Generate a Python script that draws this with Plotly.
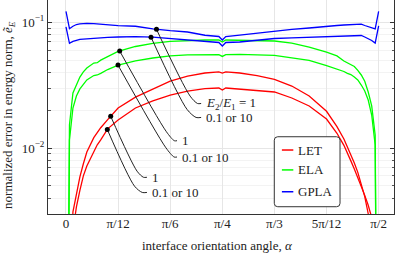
import numpy as np
import plotly.graph_objects as go

# ---------------- data ----------------
ANGLE_DEG = [0, 1, 2, 3, 4, 5, 6, 8, 9, 10, 12, 15, 20, 25, 30, 35, 40, 44, 45, 46,
             50, 55, 60, 65, 70, 75, 78, 80, 81, 82, 83, 84, 85, 86, 87, 88, 89, 90]

LET_RATIO_1 = [1e-6, 0.0008, 0.0031, 0.0044, 0.0059, 0.0075, 0.0093, 0.0121, 0.0133, 0.0145,
               0.0168, 0.0208, 0.0254, 0.0295, 0.0341, 0.0373, 0.0395, 0.0403, 0.0395, 0.0403,
               0.0395, 0.0377, 0.0351, 0.0311, 0.0259, 0.0196, 0.0148, 0.0118, 0.0103, 0.0088,
               0.0076, 0.0064, 0.0052, 0.0041, 0.0030, 0.0019, 0.0009, 1e-6]
LET_RATIO_01 = [1e-6, 0.0005, 0.0022, 0.0034, 0.0046, 0.0060, 0.0072, 0.0095, 0.0106, 0.0116,
                0.0142, 0.0167, 0.0208, 0.0237, 0.0264, 0.0284, 0.0297, 0.0300, 0.0289, 0.0300,
                0.0295, 0.0287, 0.0279, 0.0250, 0.0216, 0.0170, 0.0131, 0.0105, 0.0092, 0.0079,
                0.0068, 0.0058, 0.0050, 0.0042, 0.0035, 0.0028, 0.0014, 1e-6]
ELA_RATIO_1 = [1e-6, 0.0153, 0.0274, 0.0323, 0.0367, 0.0403, 0.0433, 0.0474, 0.0477, 0.0500,
               0.0535, 0.0586, 0.0642, 0.0680, 0.0704, 0.0717, 0.0723, 0.0723, 0.0697, 0.0723,
               0.0720, 0.0715, 0.0710, 0.0684, 0.0636, 0.0580, 0.0540, 0.0492, 0.0477, 0.0466,
               0.0445, 0.0414, 0.0381, 0.0340, 0.0279, 0.0216, 0.0127, 1e-6]
ELA_RATIO_01 = [1e-6, 0.0116, 0.0208, 0.0259, 0.0295, 0.0323, 0.0348, 0.0377, 0.0381, 0.0392,
                0.0421, 0.0457, 0.0493, 0.0520, 0.0540, 0.0550, 0.0555, 0.0553, 0.0535, 0.0553,
                0.0556, 0.0554, 0.0545, 0.0522, 0.0497, 0.0453, 0.0425, 0.0406, 0.0393, 0.0384,
                0.0367, 0.0348, 0.0317, 0.0284, 0.0241, 0.0183, 0.0106, 1e-6]
GPLA_RATIO_1 = [0.122, 0.089, 0.093, 0.096, 0.097, 0.098, 0.098, 0.0975, 0.097, 0.0965,
                0.096, 0.0942, 0.093, 0.0885, 0.0857, 0.0837, 0.0789, 0.0771, 0.0723, 0.0771,
                0.0792, 0.0822, 0.0846, 0.0877, 0.0901, 0.0935, 0.0943, 0.0952, 0.0956, 0.0960,
                0.0966, 0.0969, 0.0966, 0.0943, 0.0926, 0.0904, 0.0885, 0.122]
GPLA_RATIO_01 = [0.092, 0.068, 0.0705, 0.0722, 0.0732, 0.0736, 0.0740, 0.0746, 0.0750, 0.0753,
                 0.0760, 0.0764, 0.0768, 0.0761, 0.0743, 0.0720, 0.0704, 0.0691, 0.0648, 0.0691,
                 0.0697, 0.0717, 0.0743, 0.0753, 0.0760, 0.0767, 0.0771, 0.0774, 0.0775, 0.0778,
                 0.0780, 0.0785, 0.0785, 0.0764, 0.0743, 0.0717, 0.0684, 0.0935]

X_TICK_VALS = [0, 15, 30, 45, 60, 75, 90]
X_TICK_TEXT = ["0", "π/12", "π/6", "π/4", "π/3", "5π/12", "π/2"]
Y_TICK_VALS = [0.01, 0.1]
Y_TICK_TEXT = ["10<sup>−2</sup>", "10<sup>−1</sup>"]
Y_MINOR_VALS = [0.003, 0.004, 0.005, 0.006, 0.007, 0.008, 0.009,
                0.02, 0.03, 0.04, 0.05, 0.06, 0.07, 0.08, 0.09]

METHODS = ["LET", "ELA", "GPLA"]
COLORS = ["#ff0000", "#00ff00", "#0000ff"]

# leader-line labels: series, anchor angle, elbow (angle, value), end angle, text
LEADER_SERIES = [GPLA_RATIO_1, GPLA_RATIO_01, ELA_RATIO_1, ELA_RATIO_01, LET_RATIO_1, LET_RATIO_01]
LEADER_ANCHOR = [26.05, 24.47, 15.46, 14.97, 12.87, 11.89]
LEADER_ELBOW_X = [36.8, 36.0, 30.4, 30.3, 21.3, 20.6]
LEADER_ELBOW_Y = [0.0226, 0.0175, 0.01143, 0.00848, 0.00585, 0.00443]
LEADER_END_X = [38.9, 38.9, 31.95, 31.95, 23.3, 23.3]
LEADER_TEXT = ["<i>E</i><sub>2</sub>/<i>E</i><sub>1</sub> = 1", "0.1 or 10",
               "1", "0.1 or 10", "1", "0.1 or 10"]

FONT = "Liberation Serif, DejaVu Serif, serif"
FS = 13
TXT = "#222222"

fig = go.Figure()

series = [(LET_RATIO_1, 0), (LET_RATIO_01, 0), (ELA_RATIO_1, 1), (ELA_RATIO_01, 1),
          (GPLA_RATIO_1, 2), (GPLA_RATIO_01, 2)]
for vals, k in series:
    fig.add_trace(go.Scatter(x=ANGLE_DEG, y=vals, mode="lines",
                             line=dict(color=COLORS[k], width=1.3),
                             name=METHODS[k], showlegend=False, hoverinfo="skip"))

# leader lines
for s, a, cx, cy, ex, txt in zip(LEADER_SERIES, LEADER_ANCHOR, LEADER_ELBOW_X,
                                 LEADER_ELBOW_Y, LEADER_END_X, LEADER_TEXT):
    ay = np.interp(a, ANGLE_DEG, np.log10(s))
    cyl = np.log10(cy)
    p1x = a + 0.9 * (cx - a)
    p1y = ay + 0.9 * (cyl - ay)
    p2x = cx + 0.5 * (ex - cx)
    xs = [a, p1x, p2x, ex]
    ys = [10 ** ay, 10 ** p1y, cy, cy]
    fig.add_trace(go.Scatter(x=xs, y=ys, mode="lines",
                             line=dict(color="#222222", width=1, shape="spline", smoothing=0.8),
                             showlegend=False, hoverinfo="skip"))
    fig.add_trace(go.Scatter(x=[a], y=[10 ** ay], mode="markers",
                             marker=dict(color="#000000", size=5),
                             showlegend=False, hoverinfo="skip"))
    fig.add_annotation(x=ex + 0.9, y=cyl, xref="x", yref="y", text=txt,
                       showarrow=False, xanchor="left", yanchor="middle",
                       font=dict(family=FONT, size=FS, color=TXT))

# legend box (rounded) and entries
bx0, bx1, by0, by1 = 0.654, 0.844, 0.034, 0.361
rx, ry = 0.010, 0.016
path = (f"M {bx0+rx},{by0} L {bx1-rx},{by0} Q {bx1},{by0} {bx1},{by0+ry} "
        f"L {bx1},{by1-ry} Q {bx1},{by1} {bx1-rx},{by1} L {bx0+rx},{by1} "
        f"Q {bx0},{by1} {bx0},{by1-ry} L {bx0},{by0+ry} Q {bx0},{by0} {bx0+rx},{by0} Z")
fig.add_shape(type="path", path=path, xref="paper", yref="paper",
              fillcolor="white", line=dict(color="#333333", width=1), layer="above")
legend_rows = [0.299, 0.206, 0.104]
for name, col, yy in zip(METHODS, COLORS, legend_rows):
    fig.add_shape(type="line", xref="paper", yref="paper", x0=0.676, x1=0.709, y0=yy, y1=yy,
                  line=dict(color=col, width=1.5), layer="above")
    fig.add_annotation(x=0.718, y=yy, xref="paper", yref="paper", text=name,
                       showarrow=False, xanchor="left", yanchor="middle",
                       font=dict(family=FONT, size=FS, color=TXT))

# axis titles
fig.add_annotation(x=0.49, y=-0.145, xref="paper", yref="paper",
                   text="interface orientation angle, <i>α</i>", showarrow=False,
                   xanchor="center", yanchor="middle",
                   font=dict(family=FONT, size=FS, color=TXT))
fig.add_annotation(x=-0.1127, y=0.463, xref="paper", yref="paper", textangle=-90,
                   text="normalized error in energy norm, <i>ẽ</i><sub><i>E</i></sub>",
                   showarrow=False, xanchor="center", yanchor="middle",
                   font=dict(family=FONT, size=FS, color=TXT))

fig.update_layout(
    width=398, height=255,
    margin=dict(l=48, r=4, t=0, b=41),
    paper_bgcolor="white", plot_bgcolor="white",
    font=dict(family=FONT, size=FS, color=TXT),
    showlegend=False,
    xaxis=dict(range=[-5.18, 94.42], tickmode="array", tickvals=X_TICK_VALS,
               ticktext=X_TICK_TEXT, showgrid=True, gridcolor="#e6e6e6", gridwidth=1,
               zeroline=False, showline=True, linecolor="#333333", linewidth=1,
               ticks="", mirror=False, ticklabelstandoff=-3,
               tickfont=dict(family=FONT, size=FS, color=TXT)),
    yaxis=dict(type="log", range=[-2.525, -0.8226], tickmode="array",
               tickvals=Y_TICK_VALS, ticktext=Y_TICK_TEXT,
               showgrid=True, gridcolor="#e6e6e6", gridwidth=1,
               zeroline=False, showline=True, linecolor="#333333", linewidth=1,
               ticks="inside", ticklen=4, tickcolor="#333333", mirror="allticks",
               minor=dict(tickmode="array", tickvals=Y_MINOR_VALS, ticks="inside",
                          ticklen=2.5, tickcolor="#555555", showgrid=True,
                          gridcolor="#f3f3f3", gridwidth=1),
               tickfont=dict(family=FONT, size=FS, color=TXT)),
)

# remove the default 8px body margin so the figure fills the window exactly
fig.write_html("out.html", config={"displayModeBar": False},
               post_script="document.body.style.margin='0';")
